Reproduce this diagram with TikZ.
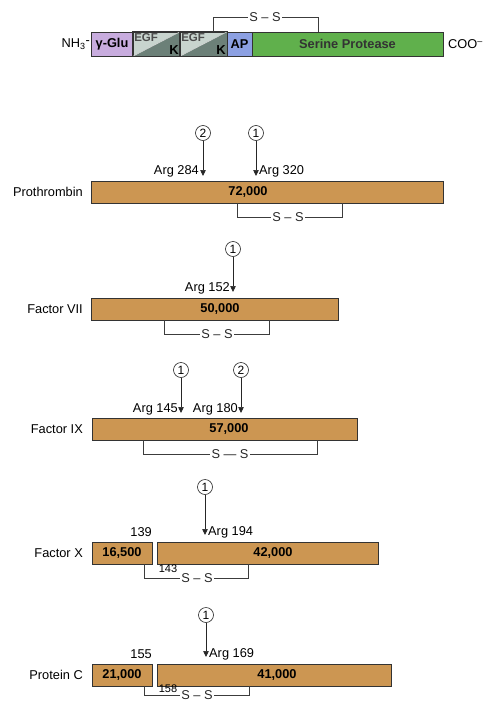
\documentclass[tikz,border=0pt]{standalone}
\usepackage{fontspec}
\setmainfont{Liberation Sans}
\usetikzlibrary{arrows.meta, positioning}
\definecolor{sandbar}{RGB}{204,150,82}
\definecolor{glulilac}{RGB}{200,172,222}
\definecolor{egflight}{RGB}{200,212,206}
\definecolor{egfdark}{RGB}{108,128,120}
\definecolor{apblue}{RGB}{140,160,226}
\definecolor{proteasegreen}{RGB}{96,176,76}
\definecolor{linegray}{RGB}{60,60,60}

\begin{document}
\begin{tikzpicture}[
		x=1pt, y=-1pt,
		font=\fontsize{12.8}{14}\selectfont,
		bar/.style={draw=black!80, fill=sandbar, line width=0.8pt, inner sep=0pt, minimum height=22pt},
		segbox/.style={draw=black!80, line width=0.8pt, inner sep=0pt, minimum height=24pt, font=\bfseries\fontsize{12.8}{14}\selectfont},
		mass/.style={inner sep=0pt, font=\bfseries\fontsize{12.8}{14}\selectfont},
		protlabel/.style={anchor=east, inner sep=0pt},
		site/.style={circle, draw=black!85, line width=0.6pt, inner sep=0pt, minimum size=15pt, font=\fontsize{12}{12}\selectfont},
		cut/.style={-{Triangle[length=6pt,width=5.5pt]}, line width=0.7pt, draw=black!85},
		bridge/.style={draw=linegray, line width=0.7pt},
		sslabel/.style={inner sep=1.5pt, text=black!85},
		resnum/.style={inner sep=0pt, font=\fontsize{11}{12}\selectfont}
	]
	\useasboundingbox (0,0) rectangle (482,704);

	% --- Domain structure (y = 44) ---
	\node[protlabel] (nh3) at (90,44) {NH\textsubscript{3}\raisebox{0.35ex}{-}};
	\node[segbox, fill=glulilac, minimum width=42pt] (glu) at (112,44) {γ-Glu};
	\node[segbox, fill=egflight, minimum width=47pt] (egf1) at (156.5,44) {};
	\node[segbox, fill=egflight, minimum width=47pt] (egf2) at (203.5,44) {};
	\fill[egfdark] (egf1.south west) -- (egf1.north east) -- (egf1.south east) -- cycle;
	\fill[egfdark] (egf2.south west) -- (egf2.north east) -- (egf2.south east) -- cycle;
	\draw[white!85!black, line width=0.5pt] (egf1.south west) -- (egf1.north east);
	\draw[white!85!black, line width=0.5pt] (egf2.south west) -- (egf2.north east);
	\draw[black!80, line width=0.8pt] (egf1.south west) rectangle (egf1.north east);
	\draw[black!80, line width=0.8pt] (egf2.south west) rectangle (egf2.north east);
	\node[anchor=north west, inner sep=1.5pt, text=black!70, font=\bfseries\fontsize{11.5}{12}\selectfont] (egf1_t) at (egf1.north west) {EGF};
	\node[anchor=south east, inner sep=1.5pt, font=\bfseries\fontsize{13}{14}\selectfont] (egf1_k) at (egf1.south east) {K};
	\node[anchor=north west, inner sep=1.5pt, text=black!70, font=\bfseries\fontsize{11.5}{12}\selectfont] (egf2_t) at (egf2.north west) {EGF};
	\node[anchor=south east, inner sep=1.5pt, font=\bfseries\fontsize{13}{14}\selectfont] (egf2_k) at (egf2.south east) {K};
	\node[segbox, fill=apblue, minimum width=25pt] (ap) at (239.5,44) {AP};
	\node[segbox, fill=proteasegreen, minimum width=191pt, text=black!80] (serprot) at (347.5,44) {Serine Protease};
	\node[anchor=west, inner sep=0pt] (coo) at (448,44) {COO\textsuperscript{–}};

	\coordinate (dom_b1) at (213,32);
	\coordinate (dom_b2) at (318,32);
	\node[sslabel] (dom_ss) at (265,17) {S – S};
	\draw[bridge] (dom_b1) |- (dom_ss) -| (dom_b2);

	% --- Prothrombin (y = 192) ---
	\node[protlabel] (pt_name) at (83,192) {Prothrombin};
	\node[bar, minimum width=352pt] (pt_bar) at (267,192) {};
	\node[mass] (pt_mass) at (248,192) {72,000};
	\node[site] (pt_c2) at (203,133) {2};
	\node[site] (pt_c1) at (256,133) {1};
	\coordinate (pt_t2) at (203,176);
	\coordinate (pt_t1) at (256,176);
	\draw[cut] (pt_c2) -- (pt_t2);
	\draw[cut] (pt_c1) -- (pt_t1);
	\node[protlabel] (pt_arg284) at (199,171) {Arg 284};
	\node[anchor=west, inner sep=0pt] (pt_arg320) at (259,171) {Arg 320};
	\coordinate (pt_b1) at (237,203);
	\coordinate (pt_b2) at (342,203);
	\node[sslabel] (pt_ss) at (288,217) {S – S};
	\draw[bridge] (pt_b1) |- (pt_ss) -| (pt_b2);

	% --- Factor VII (y = 309) ---
	\node[protlabel] (f7_name) at (83,309) {Factor VII};
	\node[bar, minimum width=247pt] (f7_bar) at (214.5,309) {};
	\node[mass] (f7_mass) at (220,309) {50,000};
	\node[site] (f7_c1) at (233,249) {1};
	\coordinate (f7_t1) at (233,292);
	\draw[cut] (f7_c1) -- (f7_t1);
	\node[protlabel] (f7_arg152) at (230,288) {Arg 152};
	\coordinate (f7_b1) at (164,320);
	\coordinate (f7_b2) at (269,320);
	\node[sslabel] (f7_ss) at (217,334) {S – S};
	\draw[bridge] (f7_b1) |- (f7_ss) -| (f7_b2);

	% --- Factor IX (y = 429) ---
	\node[protlabel] (f9_name) at (83,429) {Factor IX};
	\node[bar, minimum width=265pt] (f9_bar) at (224.5,429) {};
	\node[mass] (f9_mass) at (229,429) {57,000};
	\node[site] (f9_c1) at (181,370) {1};
	\node[site] (f9_c2) at (241,370) {2};
	\coordinate (f9_t1) at (181,413);
	\coordinate (f9_t2) at (241,413);
	\draw[cut] (f9_c1) -- (f9_t1);
	\draw[cut] (f9_c2) -- (f9_t2);
	\node[protlabel] (f9_arg145) at (178,409) {Arg 145};
	\node[protlabel] (f9_arg180) at (238,409) {Arg 180};
	\coordinate (f9_b1) at (143,440);
	\coordinate (f9_b2) at (317,440);
	\node[sslabel] (f9_ss) at (230,454) {S — S};
	\draw[bridge] (f9_b1) |- (f9_ss) -| (f9_b2);

	% --- Factor X (y = 553) ---
	\node[protlabel] (f10_name) at (83,553) {Factor X};
	\node[bar, minimum width=60pt] (f10_light) at (122,553) {};
	\node[bar, minimum width=221pt] (f10_heavy) at (267.5,553) {};
	\node[mass] (f10_m1) at (122,553) {16,500};
	\node[mass] (f10_m2) at (273,553) {42,000};
	\node[site] (f10_c1) at (205,487) {1};
	\coordinate (f10_t1) at (205,535);
	\draw[cut] (f10_c1) -- (f10_t1);
	\node[protlabel] (f10_139) at (152,532) {139};
	\node[anchor=west, inner sep=0pt] (f10_arg194) at (208,532) {Arg 194};
	\coordinate (f10_b1) at (144,564);
	\coordinate (f10_b2) at (248,564);
	\node[sslabel] (f10_ss) at (197,578) {S – S};
	\draw[bridge] (f10_b1) |- (f10_ss) -| (f10_b2);
	\node[resnum] (f10_143) at (168,569) {143};

	% --- Protein C (y = 675) ---
	\node[protlabel] (pc_name) at (83,675) {Protein C};
	\node[bar, minimum width=60pt] (pc_light) at (122,675) {};
	\node[bar, minimum width=234pt] (pc_heavy) at (274,675) {};
	\node[mass] (pc_m1) at (122,675) {21,000};
	\node[mass] (pc_m2) at (277,675) {41,000};
	\node[site] (pc_c1) at (206,615) {1};
	\coordinate (pc_t1) at (206,657);
	\draw[cut] (pc_c1) -- (pc_t1);
	\node[protlabel] (pc_155) at (152,654) {155};
	\node[anchor=west, inner sep=0pt] (pc_arg169) at (209,654) {Arg 169};
	\coordinate (pc_b1) at (144,686);
	\coordinate (pc_b2) at (249,686);
	\node[sslabel, inner sep=1pt] (pc_ss) at (197,695) {S – S};
	\draw[bridge] (pc_b1) |- (pc_ss) -| (pc_b2);
	\node[resnum] (pc_158) at (168,689) {158};

\end{tikzpicture}
\end{document}
